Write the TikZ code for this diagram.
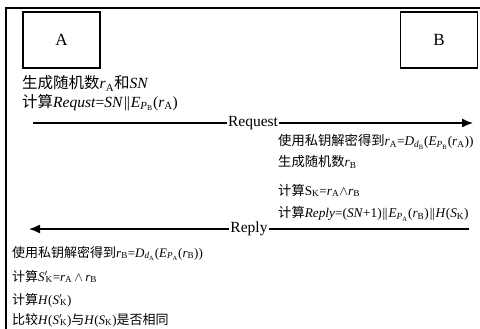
\RequirePackage{fix-cm}
\documentclass[tikz,border=0pt]{standalone}
\usepackage{amsmath}
\usepackage{fontspec}
\setmainfont{Liberation Serif}
\newfontfamily\cjkfont{Noto Sans CJK SC}
\newcommand{\zhtxt}[1]{{\cjkfont #1}}
\newcommand{\vv}[1]{\textit{#1}}
\newcommand{\sbs}[1]{\textsubscript{#1}}
\newcommand{\dbar}{\kern1pt\textbar\kern-0.5pt\textbar\kern1pt}
\usetikzlibrary{arrows.meta}
\tikzset{
  frameline/.style={line width=1.4pt},
  partybox/.style={draw, line width=1.4pt, minimum width=77pt, minimum height=56pt, inner sep=0pt, font=\fontsize{17}{20}\selectfont},
  bigtxt/.style={anchor=base west, inner sep=0pt, font=\fontsize{15.5}{18}\selectfont},
  smalltxt/.style={anchor=base west, inner sep=0pt, font=\fontsize{13}{15}\selectfont},
  righttxt/.style={anchor=base west, inner sep=0pt, font=\fontsize{13.3}{15}\selectfont},
  msg/.style={line width=1.4pt, -{Latex[length=11pt,width=9pt]}},
  msglabel/.style={fill=white, inner sep=1pt, font=\fontsize{15.5}{18}\selectfont}
}
\begin{document}
\begin{tikzpicture}[x=1pt,y=-1pt]
\useasboundingbox (0,0) rectangle (480,329);
% frame
\coordinate (fTR) at (480,8);
\coordinate (fTL) at (6,8);
\coordinate (fBL) at (6,329);
\draw[frameline] (fTR) -- (fTL) -- (fBL);
% parties
\node[partybox] (A) at (61.5,40) {A};
\node[partybox] (B) at (439,40) {B};
% A initial computations
\node[bigtxt] (a1) at (22,89) {\zhtxt{生成随机数}\vv{r}\sbs{A}\zhtxt{和}\vv{SN}};
\node[bigtxt] (a2) at (22,107) {\zhtxt{计算}\vv{Requst}=\vv{SN}\dbar\vv{E}\sbs{\vv{P}\sbs{B}}(\vv{r}\sbs{A})};
% Request
\coordinate (reqS) at (33,123);
\coordinate (reqE) at (473,123);
\draw[msg] (reqS) -- node[msglabel] (reqL) {Request} (reqE);
% B computations
\node[righttxt] (b1) at (278,146) {\zhtxt{使用私钥解密得到}\vv{r}\sbs{A}=\vv{D}\sbs{\vv{d}\sbs{B}}(\vv{E}\sbs{\vv{P}\sbs{B}}(\vv{r}\sbs{A}))};
\node[righttxt] (b2) at (278,167) {\zhtxt{生成随机数}\vv{r}\sbs{B}};
\node[righttxt] (b3) at (278,195) {\zhtxt{计算}S\sbs{K}=\vv{r}\sbs{A}$\wedge$\vv{r}\sbs{B}};
\node[righttxt] (b4) at (278,218) {\zhtxt{计算}\vv{Reply}=(\vv{SN}+1)\dbar\vv{E}\sbs{\vv{P}\sbs{A}}(\vv{r}\sbs{B})\dbar\vv{H}(\vv{S}\sbs{K})};
% Reply
\coordinate (repS) at (469,229);
\coordinate (repE) at (29,229);
\draw[msg] (repS) -- node[msglabel] (repL) {Reply} (repE);
% A final computations
\node[smalltxt] (c1) at (12,257) {\zhtxt{使用私钥解密得到}\vv{r}\sbs{B}=\vv{D}\sbs{\vv{d}\sbs{A}}(\vv{E}\sbs{\vv{P}\sbs{A}}(\vv{r}\sbs{B}))};
\node[smalltxt] (c2) at (12,281) {\zhtxt{计算}\vv{S}$'$\kern-2pt\sbs{K}=\vv{r}\sbs{A}\,$\wedge$\,\vv{r}\sbs{B}};
\node[smalltxt] (c3) at (12,304) {\zhtxt{计算}\vv{H}(\vv{S}$'$\kern-2pt\sbs{K})};
\node[smalltxt] (c4) at (12,324) {\zhtxt{比较}\vv{H}(\vv{S}$'$\kern-2pt\sbs{K})\zhtxt{与}\vv{H}(\vv{S}\sbs{K})\zhtxt{是否相同}};
\end{tikzpicture}
\end{document}
